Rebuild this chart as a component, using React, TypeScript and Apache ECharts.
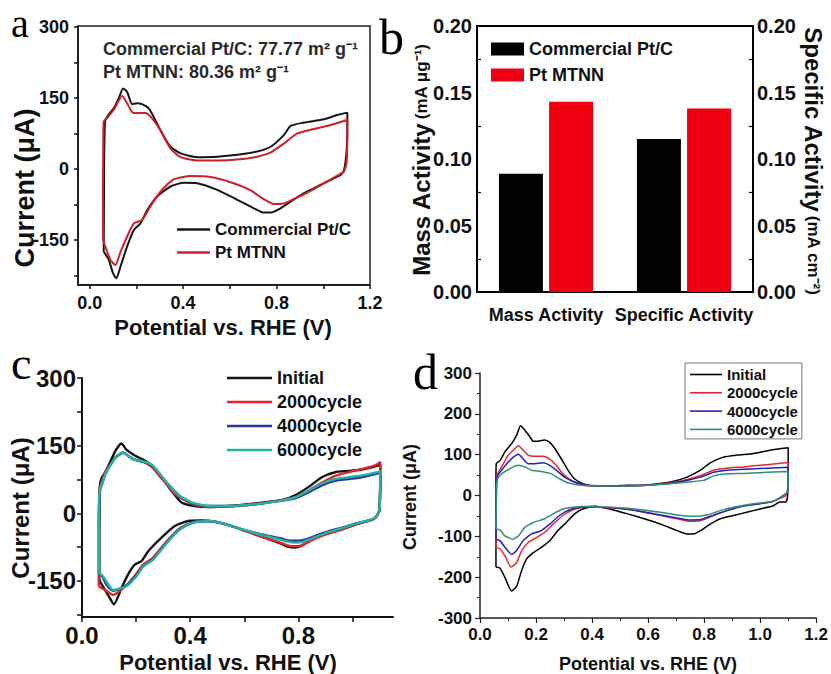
import React, { useEffect, useRef } from 'react';
import * as echarts from 'echarts';

const FONT = '"Liberation Sans", Arial, Helvetica, sans-serif';
const SERIF = '"Liberation Serif", "Times New Roman", serif';

// ---------- Panel a : CV, Commercial Pt/C vs Pt MTNN (V, uA) ----------
const aCommercial: number[][] = [
  [0.060, -175], [0.061, -80], [0.062, 20], [0.064, 80], [0.067, 103], [0.080, 114], [0.103, 128], [0.125, 150],
  [0.143, 170], [0.160, 163], [0.182, 137], [0.203, 139], [0.224, 137], [0.253, 128], [0.274, 110], [0.310, 75],
  [0.346, 47], [0.389, 33], [0.460, 25], [0.546, 26], [0.632, 30], [0.717, 37], [0.775, 47], [0.832, 72],
  [0.860, 91], [0.917, 98], [1.003, 105], [1.060, 114], [1.103, 119],
  [1.103, 100], [1.100, 40], [1.089, -2], [1.075, -12], [1.032, -23], [0.975, -37], [0.917, -51], [0.860, -69],
  [0.817, -83], [0.775, -92], [0.746, -92], [0.703, -83], [0.632, -65], [0.546, -44], [0.460, -30], [0.403, -29],
  [0.346, -37], [0.289, -58], [0.246, -87], [0.217, -115], [0.189, -129], [0.160, -164], [0.132, -206],
  [0.114, -231], [0.100, -220], [0.082, -192], [0.065, -178], [0.060, -175],
];
const aMTNN: number[][] = [
  [0.057, -150], [0.057, -60], [0.058, 40], [0.060, 100], [0.074, 107], [0.103, 125], [0.139, 154], [0.160, 139],
  [0.182, 120], [0.203, 118], [0.239, 118], [0.267, 107], [0.303, 82], [0.346, 43], [0.389, 25], [0.460, 18],
  [0.546, 18], [0.632, 20], [0.717, 26], [0.775, 35], [0.832, 54], [0.889, 75], [0.946, 83], [1.032, 93], [1.103, 104],
  [1.103, 88], [1.100, 15], [1.089, -5], [1.060, -14], [1.003, -30], [0.946, -46], [0.889, -60], [0.846, -70],
  [0.817, -74], [0.789, -74], [0.746, -64], [0.689, -45], [0.603, -28], [0.517, -17], [0.432, -15], [0.360, -22],
  [0.303, -48], [0.260, -79], [0.224, -108], [0.189, -115], [0.160, -143], [0.132, -175], [0.110, -203],
  [0.089, -192], [0.067, -164], [0.057, -150],
];
const aXTicks = [0, 0.2, 0.4, 0.6, 0.8, 1.0, 1.2];
const aXLabels = [0, 0.4, 0.8, 1.2];
const aYTicks = [-225, -150, -75, 0, 75, 150, 225, 300];
const aYLabels = [-150, 0, 150, 300];

// ---------- Panel b : activities ----------
const bCategories = ['Mass Activity', 'Specific Activity'];
const bCommercial = [0.089, 0.115];
const bMTNN = [0.143, 0.138];

// ---------- Panel c : Pt MTNN durability ----------
const cInitial: number[][] = [
  [0.064, -145], [0.064, -40], [0.065, 30], [0.066, 60], [0.072, 78], [0.085, 90], [0.100, 108], [0.125, 140],
  [0.146, 155], [0.164, 141], [0.195, 128], [0.232, 117], [0.257, 106], [0.294, 80], [0.331, 50], [0.368, 24],
  [0.417, 16], [0.467, 14], [0.541, 16], [0.640, 22], [0.738, 29], [0.788, 40], [0.837, 58], [0.887, 80],
  [0.936, 91], [0.985, 94], [1.035, 97], [1.084, 104], [1.103, 108],
  [1.103, 80], [1.101, 20], [1.099, 5], [1.084, -10], [1.059, -17], [1.010, -25], [0.961, -36], [0.911, -43],
  [0.862, -54], [0.837, -62], [0.812, -72], [0.788, -76], [0.760, -74], [0.738, -68], [0.664, -52], [0.590, -36],
  [0.516, -22], [0.442, -16], [0.393, -17], [0.343, -28], [0.294, -54], [0.245, -84], [0.220, -106], [0.195, -114],
  [0.170, -136], [0.146, -166], [0.118, -202], [0.100, -185], [0.080, -165], [0.066, -150], [0.064, -145],
];
const c2000: number[][] = [
  [0.062, -162], [0.062, -40], [0.063, 24], [0.066, 55], [0.072, 68], [0.085, 90], [0.103, 106], [0.125, 125],
  [0.152, 135], [0.175, 126], [0.200, 118], [0.225, 115], [0.245, 108], [0.263, 100], [0.290, 80], [0.313, 65],
  [0.340, 45], [0.362, 35], [0.411, 20], [0.473, 14], [0.541, 15], [0.640, 20], [0.738, 29], [0.788, 36],
  [0.837, 50], [0.887, 68], [0.936, 83], [0.985, 91], [1.035, 98], [1.084, 106], [1.103, 114],
  [1.103, 90], [1.101, 20], [1.099, 5], [1.084, -10], [1.059, -17], [1.010, -25], [0.961, -36], [0.911, -45],
  [0.862, -56], [0.837, -64], [0.812, -71], [0.788, -73], [0.760, -71], [0.738, -66], [0.664, -52], [0.590, -36],
  [0.516, -22], [0.473, -17], [0.411, -20], [0.362, -33], [0.313, -62], [0.263, -98], [0.226, -114], [0.201, -134],
  [0.164, -160], [0.115, -181], [0.090, -172], [0.070, -165], [0.062, -162],
];
const c4000: number[][] = [
  [0.063, -135], [0.063, -40], [0.064, 24], [0.068, 55], [0.072, 61], [0.085, 85], [0.103, 105], [0.125, 124],
  [0.152, 134], [0.189, 120], [0.238, 112], [0.263, 104], [0.313, 68], [0.362, 38], [0.411, 22], [0.473, 16],
  [0.541, 16], [0.640, 20], [0.738, 28], [0.788, 33], [0.837, 46], [0.887, 62], [0.936, 72], [0.985, 76],
  [1.035, 80], [1.084, 87], [1.103, 90],
  [1.103, 70], [1.101, 15], [1.099, 5], [1.084, -10], [1.059, -16], [1.010, -23], [0.961, -32], [0.911, -40],
  [0.862, -50], [0.837, -56], [0.812, -60], [0.788, -61], [0.760, -60], [0.738, -56], [0.664, -47], [0.590, -35],
  [0.516, -22], [0.473, -17], [0.411, -20], [0.362, -35], [0.313, -65], [0.263, -102], [0.226, -117], [0.201, -138],
  [0.164, -160], [0.115, -172], [0.090, -158], [0.075, -140], [0.063, -135],
];
const c6000: number[][] = [
  [0.062, -132], [0.062, -40], [0.063, 24], [0.067, 55], [0.072, 61], [0.085, 85], [0.103, 105], [0.125, 124],
  [0.152, 135], [0.189, 120], [0.238, 113], [0.263, 105], [0.313, 68], [0.362, 38], [0.411, 23], [0.473, 16],
  [0.541, 16], [0.640, 20], [0.738, 28], [0.788, 35], [0.837, 50], [0.887, 66], [0.936, 76], [0.985, 80],
  [1.035, 84], [1.084, 90], [1.103, 93],
  [1.103, 75], [1.101, 15], [1.099, 5], [1.084, -10], [1.059, -16], [1.010, -23], [0.961, -33], [0.911, -42],
  [0.862, -53], [0.837, -59], [0.812, -64], [0.788, -65], [0.760, -63], [0.738, -59], [0.664, -48], [0.590, -35],
  [0.516, -22], [0.473, -17], [0.411, -21], [0.362, -36], [0.313, -66], [0.263, -103], [0.226, -118], [0.201, -140],
  [0.164, -162], [0.115, -170], [0.078, -140], [0.062, -132],
];
const cXTicks = [0, 0.2, 0.4, 0.6, 0.8, 1.0];
const cXLabels = [0, 0.4, 0.8];
const cYTicks = [-225, -150, -75, 0, 75, 150, 225, 300];
const cYLabels = [-150, 0, 150, 300];

// ---------- Panel d : Commercial Pt/C durability ----------
const dInitial: number[][] = [
  [0.057, -175], [0.057, -60], [0.057, 40], [0.058, 78], [0.072, 86], [0.089, 107], [0.113, 127], [0.131, 148],
  [0.145, 171], [0.160, 160], [0.178, 144], [0.190, 133], [0.207, 133], [0.231, 136], [0.249, 130], [0.267, 115],
  [0.290, 90], [0.314, 62], [0.337, 41], [0.367, 29], [0.408, 23], [0.456, 23], [0.527, 25], [0.598, 26],
  [0.680, 33], [0.739, 45], [0.787, 62], [0.822, 80], [0.869, 94], [0.917, 99], [0.976, 103], [1.035, 111], [1.100, 117],
  [1.100, 60], [1.098, 0], [1.092, -16], [1.070, -16], [1.047, -25], [0.999, -33], [0.952, -41], [0.905, -49],
  [0.858, -57], [0.822, -70], [0.787, -86], [0.763, -94], [0.739, -94], [0.704, -86], [0.645, -70], [0.586, -57],
  [0.527, -45], [0.479, -36], [0.432, -29], [0.414, -27], [0.367, -33], [0.338, -45], [0.308, -66], [0.278, -86],
  [0.249, -111], [0.219, -127], [0.190, -140], [0.166, -156], [0.148, -185], [0.131, -222], [0.113, -234],
  [0.089, -201], [0.072, -178], [0.057, -175],
];
const d2000: number[][] = [
  [0.057, -127], [0.058, -40], [0.059, 30], [0.063, 53], [0.077, 70], [0.101, 99], [0.119, 111], [0.137, 122],
  [0.154, 111], [0.172, 99], [0.196, 96], [0.225, 96], [0.249, 89], [0.272, 74], [0.296, 53], [0.326, 37],
  [0.361, 26], [0.408, 23], [0.527, 23], [0.598, 25], [0.680, 31], [0.739, 39], [0.787, 49], [0.834, 62],
  [0.881, 67], [0.940, 70], [0.999, 74], [1.047, 77], [1.100, 81],
  [1.100, 40], [1.098, 15], [1.092, 0], [1.082, -4], [1.047, -14], [0.999, -20], [0.940, -26], [0.881, -37],
  [0.834, -49], [0.787, -62], [0.751, -63], [0.704, -57], [0.645, -49], [0.586, -41], [0.527, -34], [0.432, -29],
  [0.414, -26], [0.367, -29], [0.332, -35], [0.296, -49], [0.261, -70], [0.231, -90], [0.202, -103], [0.172, -115],
  [0.148, -136], [0.131, -164], [0.111, -175], [0.089, -148], [0.072, -131], [0.057, -127],
];
const d4000: number[][] = [
  [0.057, -107], [0.058, -40], [0.059, 30], [0.063, 49], [0.077, 62], [0.101, 82], [0.119, 94], [0.137, 101],
  [0.154, 90], [0.172, 78], [0.196, 78], [0.225, 80], [0.249, 74], [0.272, 62], [0.302, 45], [0.337, 33],
  [0.385, 25], [0.527, 23], [0.598, 25], [0.680, 30], [0.739, 37], [0.787, 45], [0.834, 57], [0.881, 62],
  [0.940, 64], [0.999, 66], [1.100, 69],
  [1.100, 35], [1.098, 10], [1.082, 0], [1.047, -14], [0.999, -20], [0.940, -26], [0.881, -37], [0.834, -48],
  [0.787, -59], [0.751, -60], [0.704, -55], [0.645, -48], [0.527, -33], [0.432, -29], [0.367, -29], [0.320, -35],
  [0.284, -49], [0.249, -70], [0.219, -86], [0.184, -94], [0.154, -111], [0.131, -134], [0.113, -144],
  [0.089, -127], [0.072, -111], [0.057, -107],
];
const d6000: number[][] = [
  [0.057, -82], [0.058, -30], [0.059, 25], [0.063, 41], [0.077, 53], [0.107, 66], [0.137, 74], [0.160, 70],
  [0.184, 62], [0.219, 59], [0.255, 53], [0.284, 41], [0.314, 31], [0.361, 25], [0.527, 23], [0.598, 25],
  [0.680, 29], [0.739, 33], [0.798, 37], [0.834, 48], [0.881, 53], [0.940, 54], [0.999, 56], [1.100, 59],
  [1.100, 30], [1.098, 8], [1.082, 0], [1.047, -14], [0.976, -20], [0.905, -29], [0.858, -37], [0.810, -48],
  [0.763, -51], [0.704, -48], [0.645, -41], [0.527, -31], [0.432, -28], [0.367, -27], [0.332, -29], [0.296, -33],
  [0.261, -45], [0.231, -57], [0.190, -66], [0.160, -78], [0.137, -99], [0.117, -107], [0.089, -99], [0.072, -85],
  [0.057, -82],
];

const txt = (size: number, extra: any = {}) => ({
  fontFamily: FONT, fontWeight: 'bold', fontSize: size, color: '#111', ...extra,
});

const line = (name: string, data: number[][], color: string, width: number, xi: number, yi: number) => ({
  type: 'line', name, data, xAxisIndex: xi, yAxisIndex: yi, symbol: 'none', showSymbol: false,
  smooth: 0.2, lineStyle: { color, width }, itemStyle: { color }, emphasis: { disabled: true }, z: 3,
});

const axLine = (w: number, c = '#111') => ({ onZero: false, lineStyle: { color: c, width: w } });

const plainText = (x: number, y: number, text: string, size: number, extra: any = {}, rotation = 0) => ({
  type: 'text', x, y, rotation,
  style: {
    text, fontFamily: FONT, fontWeight: 'bold', fontSize: size, fill: '#111',
    textAlign: 'center', textVerticalAlign: 'middle', lineHeight: size, ...extra,
  },
});

const letter = (x: number, y: number, t: string, size: number) => ({
  type: 'text', x, y,
  style: {
    text: t, fontFamily: SERIF, fontSize: size, fill: '#000', textAlign: 'left',
    textVerticalAlign: 'middle', lineHeight: 28,
  },
});

function buildOption(): any {
  const strip = (n: string) => n.slice(2);
  return {
    animation: false,
    backgroundColor: '#fff',
    grid: [
      { left: 78, top: 26, width: 292, height: 259, show: true, borderColor: '#222', borderWidth: 1.5 },
      { left: 477, top: 26, width: 276, height: 266, show: true, borderColor: '#000', borderWidth: 2 },
      { left: 82, top: 378, width: 311, height: 239 },
      { left: 480, top: 373, width: 337, height: 245 },
    ],
    xAxis: [
      {
        type: 'value', gridIndex: 0, min: -0.05, max: 1.2, axisLine: axLine(1.5),
        axisTick: { length: 4, customValues: aXTicks, lineStyle: { color: '#111', width: 1.5 } },
        axisLabel: { customValues: aXLabels, formatter: (v: number) => v.toFixed(1), margin: 9, ...txt(18) },
        splitLine: { show: false },
      },
      {
        type: 'category', gridIndex: 1, data: bCategories, axisLine: axLine(2, '#000'),
        axisTick: { show: false }, axisLabel: { interval: 0, margin: 14, ...txt(18) }, splitLine: { show: false },
      },
      {
        type: 'value', gridIndex: 2, min: 0, max: 1.15, axisLine: axLine(2),
        axisTick: { length: 5, customValues: cXTicks, lineStyle: { color: '#111', width: 1.5 } },
        axisLabel: {
          customValues: cXLabels, formatter: (v: number) => v.toFixed(1), margin: 9, lineHeight: 19, ...txt(24),
        },
        splitLine: { show: false },
      },
      {
        type: 'value', gridIndex: 3, min: 0, max: 1.2, interval: 0.2, axisLine: axLine(1.5, '#222'),
        axisTick: { length: 5, lineStyle: { color: '#222', width: 1.2 } },
        minorTick: { show: true, splitNumber: 2, length: 3, lineStyle: { color: '#222', width: 1 } },
        axisLabel: { formatter: (v: number) => v.toFixed(1), margin: 8, ...txt(17) },
        splitLine: { show: false }, minorSplitLine: { show: false },
      },
    ],
    yAxis: [
      {
        type: 'value', gridIndex: 0, min: -245, max: 302, axisLine: axLine(1.5),
        axisTick: { length: 4, customValues: aYTicks, lineStyle: { color: '#111', width: 1.5 } },
        axisLabel: { customValues: aYLabels, margin: 9, ...txt(18) }, splitLine: { show: false },
      },
      {
        type: 'value', gridIndex: 1, min: 0, max: 0.2, interval: 0.05, axisLine: axLine(2, '#000'),
        axisTick: { inside: true, length: 6, lineStyle: { color: '#000', width: 1.5 } },
        minorTick: { show: true, splitNumber: 2, length: 4, lineStyle: { color: '#000', width: 1.2 } },
        axisLabel: { formatter: (v: number) => v.toFixed(2), margin: 5, ...txt(20) },
        splitLine: { show: false }, minorSplitLine: { show: false },
      },
      {
        type: 'value', gridIndex: 1, position: 'right', min: 0, max: 0.2, interval: 0.05, axisLine: axLine(2, '#000'),
        axisTick: { inside: true, length: 6, lineStyle: { color: '#000', width: 1.5 } },
        minorTick: { show: true, splitNumber: 2, length: 4, lineStyle: { color: '#000', width: 1.2 } },
        axisLabel: { formatter: (v: number) => v.toFixed(2), margin: 4, ...txt(20) },
        splitLine: { show: false }, minorSplitLine: { show: false },
      },
      {
        type: 'value', gridIndex: 2, min: -230, max: 300, axisLine: axLine(2),
        axisTick: { length: 5, customValues: cYTicks, lineStyle: { color: '#111', width: 1.5 } },
        axisLabel: { customValues: cYLabels, margin: 6, ...txt(24) }, splitLine: { show: false },
      },
      {
        type: 'value', gridIndex: 3, min: -300, max: 300, interval: 100, axisLine: axLine(1.5, '#222'),
        axisTick: { length: 5, lineStyle: { color: '#222', width: 1.2 } },
        minorTick: { show: true, splitNumber: 2, length: 3, lineStyle: { color: '#222', width: 1 } },
        axisLabel: { margin: 8, ...txt(17) }, splitLine: { show: false }, minorSplitLine: { show: false },
      },
    ],
    legend: [
      {
        data: ['a:Commercial Pt/C', 'a:Pt MTNN'], formatter: strip, selectedMode: false, orient: 'vertical',
        left: 177, top: 221, itemWidth: 33, itemHeight: 2.5, itemGap: 6, padding: 0, icon: 'rect',
        textStyle: txt(17),
      },
      {
        data: ['b:Commercial Pt/C', 'b:Pt MTNN'], formatter: strip, selectedMode: false, orient: 'vertical',
        left: 491, top: 40, itemWidth: 33, itemHeight: 13, itemGap: 8, padding: 0, textStyle: txt(18),
        icon: 'rect',
      },
      {
        data: ['c:Initial', 'c:2000cycle', 'c:4000cycle', 'c:6000cycle'], formatter: strip, selectedMode: false,
        orient: 'vertical', left: 227, top: 369, itemWidth: 45, itemHeight: 2.5, itemGap: 6, padding: 0,
        icon: 'rect', textStyle: txt(18),
      },
      {
        data: ['d:Initial', 'd:2000cycle', 'd:4000cycle', 'd:6000cycle'], formatter: strip, selectedMode: false,
        orient: 'vertical', left: 685, top: 363, itemWidth: 32, itemHeight: 1.6, itemGap: 3.3,
        padding: [4, 4, 2, 5], borderColor: '#777', borderWidth: 1, icon: 'rect', textStyle: txt(15),
      },
    ],
    series: [
      line('a:Commercial Pt/C', aCommercial, '#151515', 2, 0, 0),
      line('a:Pt MTNN', aMTNN, '#d01f25', 2, 0, 0),
      {
        type: 'bar', name: 'b:Commercial Pt/C', data: bCommercial, xAxisIndex: 1, yAxisIndex: 1,
        barWidth: 44, barGap: '14%', itemStyle: { color: '#000' },
      },
      {
        type: 'bar', name: 'b:Pt MTNN', data: bMTNN, xAxisIndex: 1, yAxisIndex: 1,
        barWidth: 44, barGap: '14%', itemStyle: { color: '#ee0010' },
      },
      line('c:Initial', cInitial, '#141414', 2.4, 2, 3),
      line('c:2000cycle', c2000, '#e0252b', 2.4, 2, 3),
      line('c:4000cycle', c4000, '#23379e', 2.4, 2, 3),
      line('c:6000cycle', c6000, '#24b3a0', 2.4, 2, 3),
      line('d:Initial', dInitial, '#000000', 1.5, 3, 4),
      line('d:2000cycle', d2000, '#e8282c', 1.5, 3, 4),
      line('d:4000cycle', d4000, '#2121c4', 1.5, 3, 4),
      line('d:6000cycle', d6000, '#2f8f7c', 1.5, 3, 4),
    ],
    graphic: {
      elements: [
        // panel letters
        letter(11, 23, 'a', 40),
        letter(379, 37, 'b', 50),
        letter(11, 363, 'c', 46),
        letter(413, 372, 'd', 50),
        // panel a annotation
        plainText(103, 49, 'Commercial Pt/C: 77.77 m² g⁻¹', 18, { textAlign: 'left', fill: '#2a2a2a' }),
        plainText(103, 72, 'Pt MTNN: 80.36 m² g⁻¹', 18, { textAlign: 'left', fill: '#2a2a2a' }),
        // axis titles
        plainText(223, 327, 'Potential vs. RHE (V)', 22),
        plainText(25, 188, 'Current (μA)', 27, {}, Math.PI / 2),
        {
          type: 'text', x: 421, y: 160, rotation: Math.PI / 2,
          style: {
            text: '{m|Mass Activity} {u|(mA μg⁻¹)}', textAlign: 'center', textVerticalAlign: 'middle', fill: '#111',
            rich: {
              m: { fontFamily: FONT, fontWeight: 'bold', fontSize: 24, fill: '#111', color: '#111' },
              u: { fontFamily: FONT, fontWeight: 'bold', fontSize: 17, fill: '#111', color: '#111' },
            },
          },
        },
        {
          type: 'text', x: 813, y: 161, rotation: -Math.PI / 2,
          style: {
            text: '{m|Specific Activity} {u|(mA cm⁻²)}', textAlign: 'center', textVerticalAlign: 'middle', fill: '#111',
            rich: {
              m: { fontFamily: FONT, fontWeight: 'bold', fontSize: 24, fill: '#111', color: '#111' },
              u: { fontFamily: FONT, fontWeight: 'bold', fontSize: 17, fill: '#111', color: '#111' },
            },
          },
        },
        plainText(228, 662, 'Potential vs. RHE (V)', 22),
        plainText(20, 508, 'Current (μA)', 24, {}, Math.PI / 2),
        plainText(648, 664, 'Potential vs. RHE (V)', 18),
        plainText(410, 497, 'Current (μA)', 18, {}, Math.PI / 2),
      ],
    },
  };
}

export default function App() {
  const ref = useRef<HTMLDivElement>(null);
  useEffect(() => {
    if (!ref.current) return;
    const chart = echarts.init(ref.current, null, { renderer: 'svg' });
    chart.setOption(buildOption());
    return () => chart.dispose();
  }, []);
  return (
    <div
      ref={ref}
      style={{ position: 'absolute', left: 0, top: 0, width: 831, height: 674, background: '#fff' }}
    />
  );
}
